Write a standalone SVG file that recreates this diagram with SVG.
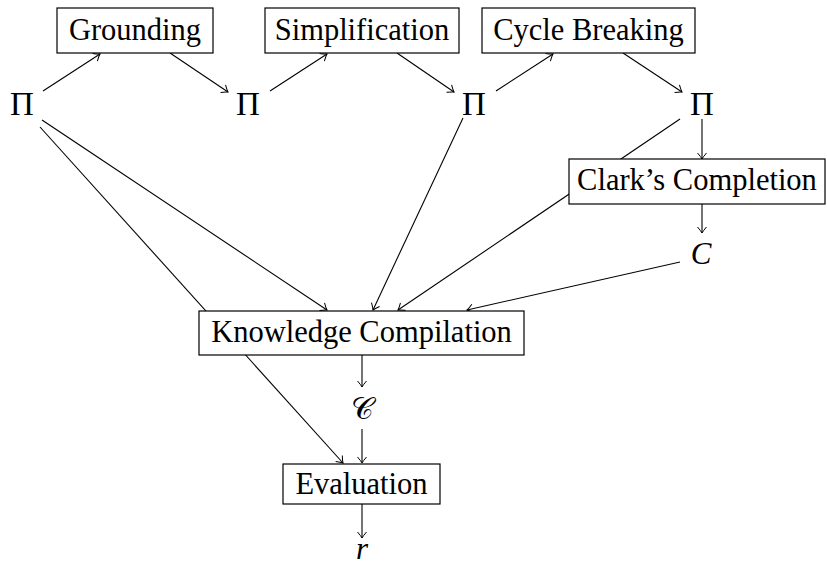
<svg xmlns="http://www.w3.org/2000/svg" width="827" height="567" viewBox="0 0 827 567">
<defs>
<marker id="to" viewBox="-8 -6 10 12" markerWidth="10" markerHeight="12" refX="0" refY="0" orient="auto" markerUnits="userSpaceOnUse">
<path d="M-6,-4.5 Q-2,-1 0,0 Q-2,1 -6,4.5" fill="none" stroke="#000" stroke-width="1"/>
</marker>
<style>
.e{stroke:#000;stroke-width:1.1;fill:none;marker-end:url(#to)}
.b{fill:#fff;stroke:#000;stroke-width:1.2}
.t{font-family:"Liberation Serif","DejaVu Serif",serif;font-size:30.5px;fill:#000;text-anchor:middle}
.m{font-family:"Liberation Serif","DejaVu Serif",serif;font-size:31px;fill:#000;text-anchor:middle}
.p{font-size:33px}
.i{font-style:italic}
</style>
</defs>
<g id="connectors">
<line class="e" x1="43" y1="91" x2="100" y2="54"/>
<line class="e" x1="170" y1="53" x2="228" y2="92"/>
<line class="e" x1="270" y1="91" x2="327" y2="54"/>
<line class="e" x1="397" y1="53" x2="454" y2="92"/>
<line class="e" x1="496" y1="91" x2="553" y2="54"/>
<line class="e" x1="623" y1="53" x2="682" y2="92"/>
<line class="e" x1="702" y1="119" x2="702" y2="159"/>
<line class="e" x1="702" y1="204" x2="702" y2="233"/>
<line class="e" x1="42" y1="120" x2="327" y2="310"/>
<line class="e" x1="40" y1="127" x2="343" y2="463"/>
<line class="e" x1="463" y1="118" x2="373" y2="310"/>
<line class="e" x1="680" y1="119" x2="398" y2="310"/>
<line class="e" x1="680" y1="262" x2="467" y2="310"/>
<line class="e" x1="362" y1="355" x2="362" y2="387"/>
<line class="e" x1="362" y1="429" x2="362" y2="463"/>
<line class="e" x1="362" y1="504" x2="362" y2="538"/>
</g>
<g id="grounding"><rect class="b" x="57" y="8" width="156" height="45"/><text class="t" x="135" y="40">Grounding</text></g>
<g id="simplification"><rect class="b" x="265" y="8" width="194" height="45"/><text class="t" x="362" y="40">Simplification</text></g>
<g id="cycle-breaking"><rect class="b" x="482" y="8" width="213" height="45"/><text class="t" x="588.5" y="40">Cycle Breaking</text></g>
<g id="clarks-completion"><rect class="b" x="569" y="159" width="256" height="45"/><text class="t" x="697" y="190">Clark’s Completion</text></g>
<g id="knowledge-compilation"><rect class="b" x="199" y="311" width="325" height="44"/><text class="t" x="361.5" y="342">Knowledge Compilation</text></g>
<g id="evaluation"><rect class="b" x="283" y="464" width="157" height="40"/><text class="t" x="361.5" y="494">Evaluation</text></g>
<g id="pi1"><text class="m p" x="22" y="115">Π</text></g>
<g id="pi2"><text class="m p" x="248" y="115">Π</text></g>
<g id="pi3"><text class="m p" x="474" y="115">Π</text></g>
<g id="pi4"><text class="m p" x="702" y="115">Π</text></g>
<g id="c-italic"><text class="m i" x="701" y="264">C</text></g>
<g id="c-cal"><text class="m" x="362" y="419" style="font-family:'DejaVu Sans','Noto Sans',serif">𝒞</text></g>
<g id="r"><text class="m i" x="362" y="559">r</text></g>
</svg>
